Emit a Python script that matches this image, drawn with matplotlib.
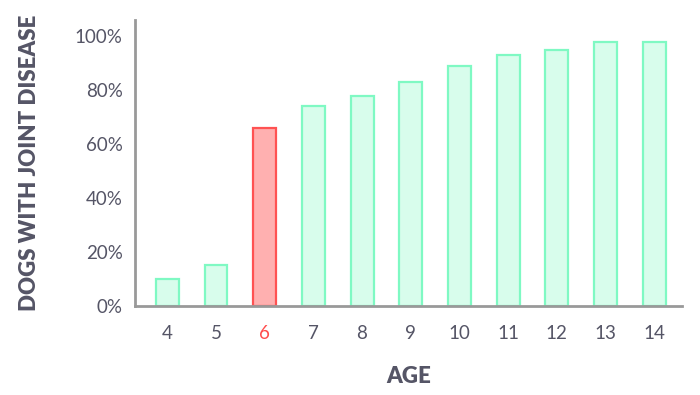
import matplotlib.pyplot as plt
from matplotlib import font_manager as fm
from matplotlib.ticker import FuncFormatter

# data
ages = [4, 5, 6, 7, 8, 9, 10, 11, 12, 13, 14]
pct_joint_disease = [10, 15, 66, 74, 78, 83, 89, 93, 95, 98, 98]
highlight_age = 6
y_ticks = [0, 20, 40, 60, 80, 100]

plt.rcParams['font.family'] = ['Lato', 'DejaVu Sans']

# pick the heavy Lato file directly
bold_file = [f.fname for f in fm.fontManager.ttflist
             if f.name == 'Lato' and f.weight == 800 and f.style == 'normal']
bold_fp = fm.FontProperties(fname=bold_file[0], size=16) if bold_file else fm.FontProperties(family='Lato', weight='bold', size=16)

text_col = '#555566'
green_edge, green_fill = '#7ff9c3', '#d8fdec'
red_edge, red_fill = '#ff5252', '#ffb0b0'

fig = plt.figure(figsize=(7, 3.95), dpi=100)
ax = fig.add_axes([0.193, 0.226, 0.781, 0.723])

edges = [red_edge if a == highlight_age else green_edge for a in ages]
fills = [red_fill if a == highlight_age else green_fill for a in ages]
ax.bar(ages, pct_joint_disease, width=0.47, color=fills, edgecolor=edges, linewidth=1.6)

ax.set_xlim(3.34, 14.565)
ax.set_ylim(0, 106)
ax.set_xticks(ages)
ax.set_yticks(y_ticks)
ax.yaxis.set_major_formatter(FuncFormatter(lambda v, p: f"{v:.0f}%"))

for s in ['top', 'right']:
    ax.spines[s].set_visible(False)
for s in ['left', 'bottom']:
    ax.spines[s].set_color('#999999')
    ax.spines[s].set_linewidth(2)

ax.tick_params(axis='both', length=0, labelsize=13.5, labelcolor=text_col)
ax.tick_params(axis='y', pad=9)
ax.tick_params(axis='x', pad=14)
for lbl, a in zip(ax.get_xticklabels(), ages):
    if a == highlight_age:
        lbl.set_color('#ff4d4d')

ax.set_xlabel('AGE', fontproperties=bold_fp, color=text_col)
ax.set_ylabel('DOGS WITH JOINT DISEASE', fontproperties=bold_fp, color=text_col)
ax.xaxis.set_label_coords(0.5, -0.21)
ax.yaxis.set_label_coords(-0.174, 0.5)

fig.savefig('out.png', dpi=100)
